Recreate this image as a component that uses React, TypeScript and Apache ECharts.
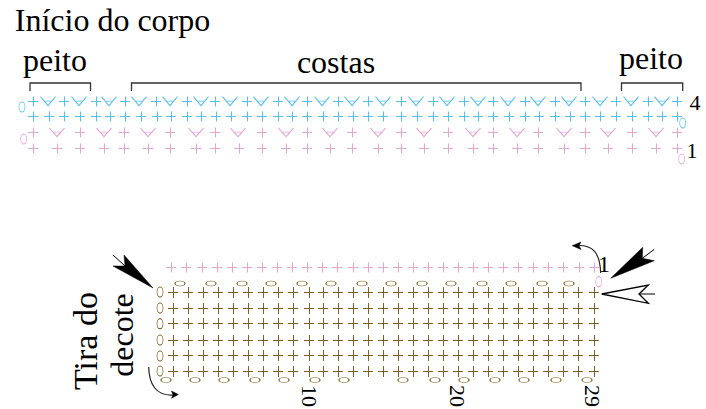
import React, { useEffect, useRef } from "react";
import * as echarts from "echarts";

const blueVRowPlusX = [33,64,96,125,156,187,215,247,278,307,338,368,401,433,464,493,525,555,585,616,648,677];
const blueVRowShellX = [48,79,109,139,170,201,230,261,292,322,352,383,416,447,478,508,538,569,600,631,662];
const bluePlusRowX = [33,49,64,80,96,110,125,141,157,171,187,201,216,231,247,262,278,292,307,323,338,353,368,383,401,417,433,448,464,478,493,509,525,539,555,570,585,600,616,632,648,662,677];
const pinkPlusX = [33,80,124,170,215,262,307,352,401,448,493,538,585,632,677];
const pinkShellX = [57,104,148,196,238,286,330,378,424,473,517,564,608,656];
const pinkBaseX = [33,57,80,104,124,148,170,196,215,239,262,286,307,330,352,378,401,424,448,473,493,517,538,564,585,608,632,656,677];
const neckPinkX = [171,186,202,217,232,247,262,277,292,307,322,337,353,368,383,398,413,428,443,458,473,488,503,518,533,548,563,579,594];
const neckBrownX = [173,188,203,218,233,248,263,278,293,309,323,338,353,368,383,398,413,428,443,458,473,488,503,518,533,548,563,578,594];
const neckRowsY = [292.5,308.5,323.5,340.5,355.5,371.5];
const neckChainLeftY = [292,308,323.7,340,356,371];
const neckTopChainX = [180,211,242,271,302,331,362,391,422,451,482,511,542,569];
const neckBottomChainX = [166,195,224,255,284,315,344,403,435,464,495,524,556,587];
const stepLabels = ["10","20","29"];
const stepLabelX = [309,457,592];

const BLUE = "#55bfee";
const PINK = "#e2a6d2";
const BROWN = "#7a5c1e";

const PLUS = "path://M5.5 0V10M0 5H10";
const FOUR = "path://M5.5 0V10M0 5H10";
const SHELL = "path://M0 0L7.5 9L15 0M3.2 4.4H11.8";
const OVAL = "path://M0 5C0 2.2 2.2 0 5 0C7.8 0 10 2.2 10 5C10 7.8 7.8 10 5 10C2.2 10 0 7.8 0 5Z";

function marks(xs: number[], ys: number[], symbol: string, size: number[], color: string, width = 1) {
  const data: number[][] = [];
  ys.forEach((y) => xs.forEach((x) => data.push([x, y])));
  return {
    type: "scatter",
    data,
    symbol,
    symbolSize: size,
    silent: true,
    clip: false,
    itemStyle: { color: "transparent", borderColor: color, borderWidth: width, opacity: 1 },
  };
}

function label(text: string, x: number, y: number, fontSize: number, rotation = 0) {
  return {
    type: "text",
    x,
    y,
    rotation,
    silent: true,
    style: {
      text,
      fontFamily: "Liberation Serif",
      fontSize,
      fill: "#000",
      textAlign: "center",
      textVerticalAlign: "middle",
    },
  };
}

function stroke(points: number[][], width = 1.3, color = "#333") {
  return {
    type: "polyline",
    silent: true,
    shape: { points },
    style: { stroke: color, lineWidth: width, fill: "none" },
  };
}

function solid(points: number[][], fill = "#000", line = "#000", lineWidth = 0.5) {
  return {
    type: "polygon",
    silent: true,
    shape: { points },
    style: { fill, stroke: line, lineWidth },
  };
}

function curve(x1: number, y1: number, cpx1: number, cpy1: number, cpx2: number, cpy2: number, x2: number, y2: number) {
  return {
    type: "bezierCurve",
    silent: true,
    shape: { x1, y1, cpx1, cpy1, cpx2, cpy2, x2, y2 },
    style: { stroke: "#222", lineWidth: 1.2, fill: "none" },
  };
}

export default function App() {
  const ref = useRef<HTMLDivElement>(null);
  useEffect(() => {
    const chart = echarts.init(ref.current!, undefined, { renderer: "svg" });
    chart.setOption({
      animation: false,
      backgroundColor: "#fff",
      grid: { left: 0, right: 0, top: 0, bottom: 0 },
      xAxis: { type: "value", min: 0, max: 706, show: false },
      yAxis: { type: "value", min: 0, max: 409, inverse: true, show: false },
      series: [
        marks(blueVRowPlusX, [101.5], PLUS, [10, 10], BLUE),
        marks(blueVRowShellX, [101.2], SHELL, [15, 9], BLUE),
        marks(bluePlusRowX, [116.5], PLUS, [10, 10], BLUE),
        marks([22], [107], OVAL, [6, 10], BLUE, 0.9),
        marks([682.7], [123], OVAL, [6, 10], BLUE, 0.9),
        marks(pinkPlusX, [132.5], PLUS, [10, 10], PINK),
        marks(pinkShellX, [132.3], SHELL, [15, 8.5], PINK),
        marks(pinkBaseX, [148.5], PLUS, [10, 10], PINK),
        marks([23.7], [139], OVAL, [6, 10], PINK, 0.9),
        marks([681.7], [159], OVAL, [6, 10], PINK, 0.9),
        marks(neckPinkX, [267.5], PLUS, [10, 10], PINK),
        marks(neckBrownX, neckRowsY, FOUR, [10, 11], BROWN, 1),
        marks([160], neckChainLeftY, OVAL, [6, 10], BROWN, 0.9),
        marks(neckTopChainX, [283.5], OVAL, [10, 5], BROWN, 0.9),
        marks(neckBottomChainX, [380], OVAL, [10, 5], BROWN, 0.9),
        marks([598.7], [281.7], OVAL, [6, 10], PINK, 0.9),
      ],
      graphic: [
        label("Início do corpo", 112.5, 20, 32),
        label("peito", 55, 60, 32),
        label("costas", 336, 62, 32),
        label("peito", 651, 58, 32),
        label("4", 695, 102, 22),
        label("1", 692, 150, 22),
        label("1", 604, 264, 24),
        label("Tira do", 85.5, 341, 34, Math.PI / 2),
        label("decote", 122, 335, 32, Math.PI / 2),
        ...stepLabels.map((t, i) => label(t, stepLabelX[i], 396, 22, -Math.PI / 2)),
        stroke([[30, 91], [30, 83], [90.5, 83], [90.5, 91]]),
        stroke([[131.5, 91], [131.5, 83], [581, 83], [581, 91]]),
        stroke([[621.5, 91], [621.5, 83], [682.7, 83], [682.7, 91]]),
        solid([[153, 288], [124, 255], [125, 266], [113, 266]]),
        stroke([[113, 255], [125, 266]], 1, "#000"),
        solid([[610.7, 278.3], [642.7, 247.3], [642.3, 258.3], [654.3, 260.7]]),
        stroke([[654.3, 249.3], [642.3, 258.3]], 1, "#000"),
        solid([[601.7, 294], [648.3, 285], [639, 294], [648.3, 303.3]], "#fff", "#000", 1.3),
        stroke([[639, 294], [655, 294]], 1, "#000"),
        curve(600.7, 273, 600, 252, 592, 245, 578, 245.5),
        solid([[572.3, 245.7], [581, 242], [579, 245.7], [581, 249.5]]),
        curve(148.7, 367, 149, 384, 156, 396, 173, 395),
        solid([[178.3, 394.5], [171.5, 391], [173, 394.8], [171.5, 398.3]]),
      ],
    });
    return () => chart.dispose();
  }, []);
  return <div ref={ref} style={{ position: "absolute", left: 0, top: 0, width: 706, height: 409 }} />;
}
